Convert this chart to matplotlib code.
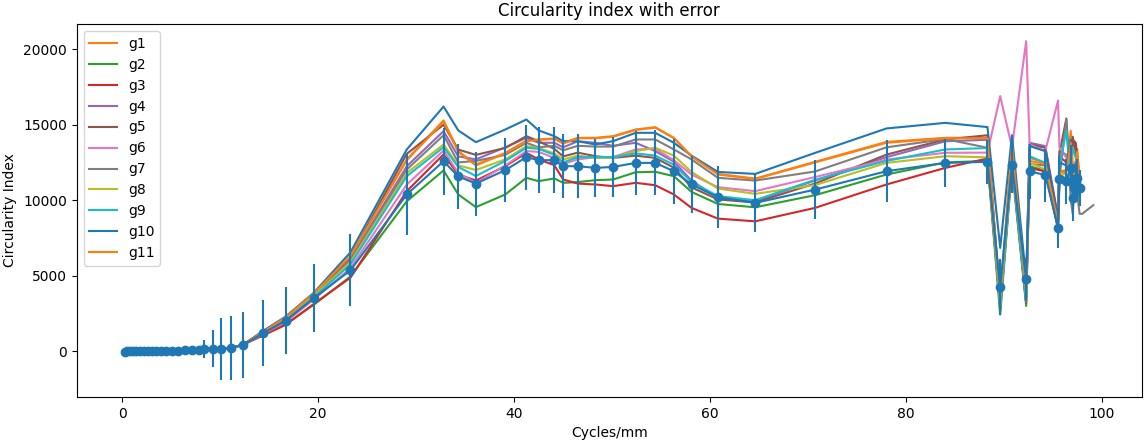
import matplotlib.pyplot as plt

# spatial frequency (cycles/mm)
x_low = [0.3, 0.5, 0.8, 1.1, 1.4, 1.8, 2.2, 2.6, 3.0, 3.5, 4.0, 4.5, 5.1, 5.7, 6.4,
         7.1, 7.8, 8.4, 9.3, 10.1, 11.1, 12.3]
x_high = [14.4, 16.7, 19.6, 23.3, 29.05, 32.8, 34.3, 36.1, 39.1, 41.25, 42.5, 44.1,
          45.0, 46.5, 48.3, 50.1, 52.4, 54.4, 56.3, 58.1, 60.8, 64.6, 70.7, 78.0,
          84.0, 88.3, 89.6, 90.8, 92.25, 92.6, 94.2, 95.5, 95.65, 96.35, 96.8,
          97.0, 97.3, 97.45, 97.7]
x_g7_extra = [97.95, 99.1]

# mean circularity index and its error
mean_low = [-20, -10, 0, 0, 5, 10, 10, 15, 20, 20, 25, 30, 35, 40, 50, 60, 80,
            150, 175, 150, 220, 400]
mean_high = [1200, 2030, 3530, 5360, 10380, 12580, 11570, 11100, 11990, 12850, 12650,
             12650, 12250, 12250, 12140, 12200, 12470, 12470, 11920, 11040, 10200,
             9820, 10700, 11920, 12470, 12540, 4240, 12360, 4750, 11920, 11660, 8170,
             11370, 11260, 12140, 10150, 11170, 11500, 10820]
err_low = [60, 60, 50, 50, 50, 60, 60, 70, 80, 80, 90, 100, 110, 120, 140, 160, 250,
           575, 1200, 2050, 2100, 2200]
err_high = [2200, 2230, 2260, 2380, 2670, 2230, 2150, 2120, 2100, 2150, 2170, 2170,
            2100, 2100, 1930, 2000, 2120, 2150, 2160, 1900, 2070, 1900, 1950, 2060,
            1600, 1440, 1870, 1880, 1400, 1820, 1750, 1320, 1500, 1500, 1500, 1500,
            1200, 1200, 1200]

# all groups sit on top of each other at low frequency
g_low = [-20, -10, 0, 0, 5, 10, 10, 15, 20, 20, 25, 30, 35, 40, 50, 60, 80,
         150, 175, 160, 230, 420]

g1 = [1300, 2250, 3850, 6300, 12700, 15280, 13250, 12360, 13130, 13950, 14020, 14090,
      13800, 14130, 14130, 14240, 14680, 14835, 14128, 12910, 11740, 11430, 12540, 13860,
      14130, 14130, 3500, 13700, 4000, 12800, 12470, 8600, 11900, 12000, 14600, 12300,
      11000, 13400, 11500]
g2 = [1100, 1800, 3100, 4950, 9930, 11970, 10380, 9540, 10380, 11480, 11260, 11440,
      11150, 11200, 11325, 11370, 11850, 11880, 11590, 10550, 9750, 9530, 10330, 11700,
      12500, 12600, 2430, 12200, 3000, 12250, 11950, 8100, 11700, 11400, 10800, 10500,
      10400, 10800, 10200]
g3 = [1050, 1750, 3150, 4870, 10600, 13030, 11700, 11300, 12250, 13130, 12700, 12320,
      11370, 11100, 11040, 10930, 11150, 10990, 10380, 9490, 8780, 8600, 9490, 11040,
      12140, 12760, 2800, 12400, 3200, 12140, 11900, 8200, 12900, 12500, 13200, 14000,
      13800, 12900, 11200]
g4 = [1200, 2150, 3750, 6100, 12250, 14570, 12900, 12700, 13500, 14130, 13800, 13800,
      13500, 13900, 13800, 13600, 13800, 13250, 12550, 11300, 10150, 9950, 11300, 12850,
      13900, 14000, 3200, 13200, 3700, 13800, 13580, 8900, 13300, 13000, 12200, 11500,
      11800, 12300, 10800]
g5 = [1250, 2200, 3800, 6250, 13070, 15000, 13350, 13000, 13460, 14240, 13900, 13400,
      12900, 13150, 12910, 12800, 12950, 12800, 12150, 10850, 10050, 9850, 11100, 13020,
      14020, 14300, 3300, 13000, 3800, 13700, 13470, 8800, 13100, 15410, 11000, 14200,
      13200, 12500, 10600]
g6 = [1150, 1950, 3450, 5500, 11040, 13290, 11800, 11150, 12300, 13250, 13200, 12800,
      12400, 12700, 12850, 12850, 13360, 13400, 12650, 11700, 10860, 10600, 11530, 12690,
      13140, 13150, 16890, 13500, 20530, 13700, 13250, 16600, 13470, 12800, 12000, 11800,
      12600, 11600, 10900]
g7 = [1200, 2100, 3700, 6000, 12030, 14300, 12500, 12600, 13000, 13800, 13500, 13600,
      13300, 13600, 13550, 13550, 14020, 14020, 13360, 12700, 11480, 11300, 11900, 13500,
      14050, 13470, 3100, 12800, 3600, 12400, 12300, 8700, 11500, 15300, 10000, 9100,
      12000, 10500, 9100]
g7_extra = [9090, 9670]
g8 = [1200, 2100, 3700, 5900, 11800, 13690, 12300, 12000, 12700, 13580, 13450, 13100,
      12700, 12950, 12800, 12800, 13250, 13470, 12950, 11870, 10770, 10420, 11000, 12470,
      12910, 12840, 3000, 12500, 3500, 12470, 12030, 8300, 11600, 11800, 11200, 10800,
      11000, 11200, 10500]
g9 = [1200, 2050, 3600, 5750, 11590, 13510, 12200, 11600, 12600, 13470, 13400, 13000,
      12500, 12850, 12850, 12850, 13100, 12950, 12350, 11200, 10270, 10000, 11350, 12600,
      13360, 13450, 2870, 12600, 3300, 12910, 12470, 8400, 12300, 14600, 11500, 13500,
      12800, 12000, 11700]
g10 = [1350, 2300, 3900, 6550, 13360, 16200, 14620, 13840, 14680, 15340, 14620, 14240,
       13910, 13900, 13690, 13910, 14460, 14460, 13800, 12950, 11870, 11740, 13130, 14750,
       15120, 14840, 6840, 14300, 4750, 13580, 13250, 8600, 12500, 12300, 14000, 11000,
       12500, 11500, 10300]
g11 = [1280, 2250, 3850, 6300, 12650, 15200, 13200, 12300, 13100, 13900, 14000, 14050,
       13750, 14100, 14100, 14200, 14650, 14800, 14100, 12900, 11700, 11400, 12500, 13800,
       14100, 14100, 3400, 13600, 3900, 12600, 12400, 8500, 11800, 11900, 13800, 12200,
       11200, 13200, 11400]

labels = ["g1", "g2", "g3", "g4", "g5", "g6", "g7", "g8", "g9", "g10", "g11"]
groups = [g1, g2, g3, g4, g5, g6, g7, g8, g9, g10, g11]

x = x_low + x_high

fig, ax = plt.subplots(figsize=(11.44, 4.4), dpi=100)
ax.errorbar(x, mean_low + mean_high, yerr=err_low + err_high, fmt='-o', zorder=3)

for name, g in zip(labels, groups):
    if name == "g7":
        ax.plot(x + x_g7_extra, g_low + g + g7_extra, label=name)
    else:
        ax.plot(x, g_low + g, label=name)

ax.set_title('Circularity index with error')
ax.set_xlabel('Cycles/mm')
ax.set_ylabel('Circularity Index')
ax.legend(loc='upper left')

fig.subplots_adjust(left=0.067, right=0.998, bottom=0.098, top=0.945)
plt.savefig('out.png')
